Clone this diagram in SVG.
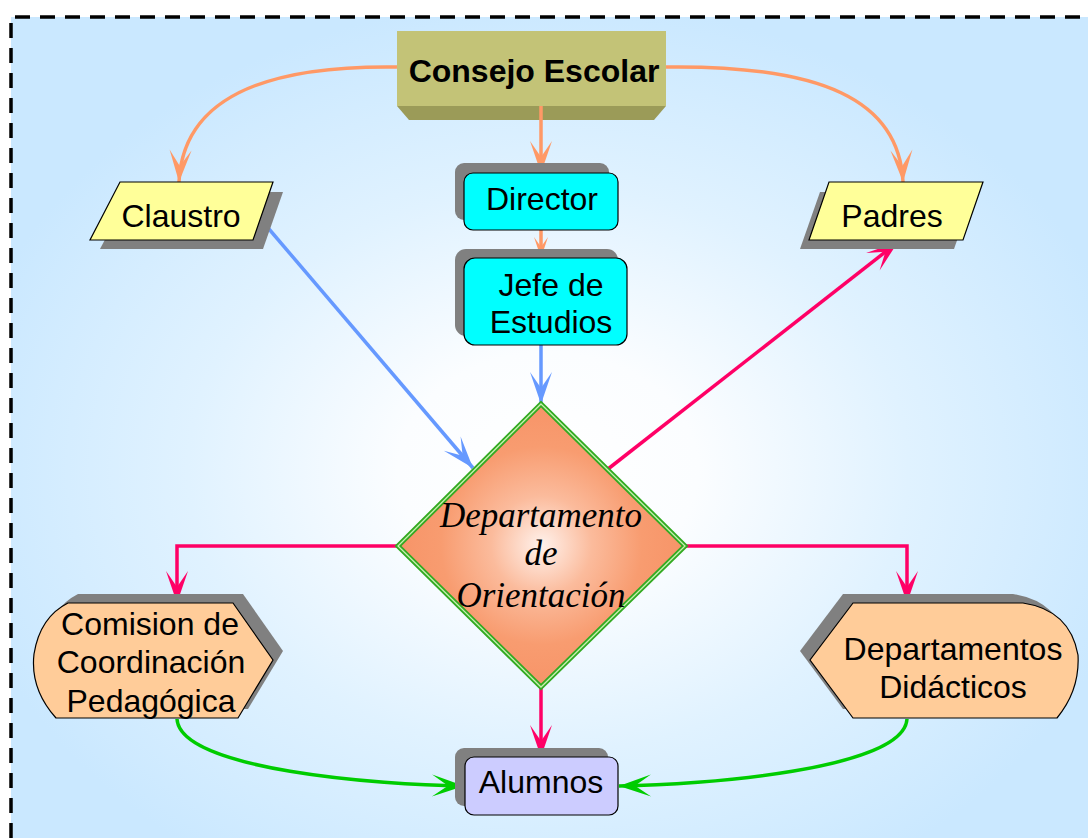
<svg xmlns="http://www.w3.org/2000/svg" width="1088" height="838" viewBox="0 0 1088 838">
  <defs>
    <radialGradient id="bg" gradientUnits="userSpaceOnUse" cx="0" cy="0" r="1" gradientTransform="translate(548 470) scale(600 470)">
      <stop offset="0" stop-color="#ffffff"/>
      <stop offset="0.25" stop-color="#fbfdff"/>
      <stop offset="0.6" stop-color="#e0f2ff"/>
      <stop offset="1" stop-color="#cae8ff"/>
    </radialGradient>
    <radialGradient id="diamondFill" cx="0.5" cy="0.5" r="0.5">
      <stop offset="0" stop-color="#fff2ec"/>
      <stop offset="0.35" stop-color="#fbbb9c"/>
      <stop offset="0.7" stop-color="#f89c70"/>
      <stop offset="1" stop-color="#f79468"/>
    </radialGradient>
    <marker id="arOrange" markerUnits="userSpaceOnUse" markerWidth="40" markerHeight="40" refX="0" refY="0" orient="auto" overflow="visible">
      <path d="M0,0 L-32,-11 L-16,0 L-32,11 Z" fill="#ff9966"/>
    </marker>
    <marker id="arOrangeSm" markerUnits="userSpaceOnUse" markerWidth="30" markerHeight="30" refX="0" refY="0" orient="auto" overflow="visible">
      <path d="M0,0 L-21,-7 L-11,0 L-21,7 Z" fill="#ff9966"/>
    </marker>
    <marker id="arBlue" markerUnits="userSpaceOnUse" markerWidth="40" markerHeight="40" refX="0" refY="0" orient="auto" overflow="visible">
      <path d="M0,0 L-32,-11 L-16,0 L-32,11 Z" fill="#6699ff"/>
    </marker>
    <marker id="arRed" markerUnits="userSpaceOnUse" markerWidth="40" markerHeight="40" refX="0" refY="0" orient="auto" overflow="visible">
      <path d="M0,0 L-32,-11 L-16,0 L-32,11 Z" fill="#ff0066"/>
    </marker>
    <marker id="arGreen" markerUnits="userSpaceOnUse" markerWidth="40" markerHeight="40" refX="0" refY="0" orient="auto" overflow="visible">
      <path d="M0,0 L-32,-11 L-16,0 L-32,11 Z" fill="#00cc00"/>
    </marker>
  </defs>
  <style>
    .lbl { font-family: "Liberation Sans", Arial, sans-serif; font-size: 32px; fill: #000; text-anchor: middle; }
    .bold { font-weight: bold; }
    .ital { font-family: "Liberation Serif", "Times New Roman", serif; font-style: italic; font-size: 35px; fill: #000; text-anchor: middle; }
    .shadow { fill: #808080; }
    .edge { stroke: #000; stroke-width: 1.2; }
    .conn { fill: none; stroke-width: 3.5; }
    .orange { stroke: #ff9966; }
    .blue { stroke: #6699ff; }
    .red { stroke: #ff0066; }
    .green { stroke: #00cc00; }
  </style>

  <!-- page background with dashed frame -->
  <rect x="11" y="17" width="1080" height="825" fill="url(#bg)"/>
  <path d="M11,838 L11,17 L1092,17" fill="none" stroke="#000" stroke-width="3.5" stroke-dasharray="15 10"/>

  <!-- connectors -->
  <g id="connectors">
    <path class="conn orange" d="M397,67 C260,65 183,100 179,182" marker-end="url(#arOrange)"/>
    <path class="conn orange" d="M666,67 C822,65 899,100 903,182" marker-end="url(#arOrange)"/>
    <path class="conn orange" d="M541,106 L541,173" marker-end="url(#arOrange)"/>
    <path class="conn orange" d="M541,230 L541,258" marker-end="url(#arOrangeSm)"/>
    <path class="conn blue" d="M541,345 L541,404" marker-end="url(#arBlue)"/>
    <path class="conn blue" d="M263,222 L473,468" marker-end="url(#arBlue)"/>
    <path class="conn red" d="M608,469 L898,242" marker-end="url(#arRed)"/>
    <path class="conn red" d="M398,546 L177,546 L177,603" marker-end="url(#arRed)"/>
    <path class="conn red" d="M685,546 L907,546 L907,603" marker-end="url(#arRed)"/>
    <path class="conn red" d="M541,687 L541,757" marker-end="url(#arRed)"/>
    <path class="conn green" d="M177,719 C180,770 380,785 464,786" marker-end="url(#arGreen)"/>
    <path class="conn green" d="M907,719 C904,770 700,785 619,786" marker-end="url(#arGreen)"/>
  </g>

  <!-- Consejo Escolar: raised block -->
  <g id="consejo">
    <polygon points="397,106 666,106 654,120 409,120" fill="#9b9b58"/>
    <rect x="397" y="31" width="269" height="75" fill="#c3c377"/>
    <line x1="541" y1="106" x2="541" y2="120" stroke="#ff9966" stroke-width="3.5"/>
    <text class="lbl bold" x="534" y="82">Consejo Escolar</text>
  </g>

  <!-- Claustro -->
  <g id="claustro">
    <polygon class="shadow" points="130,192 283,192 263,249 100,249"/>
    <polygon class="edge" points="120,182 273,182 253,240 90,240" fill="#ffff99"/>
    <text class="lbl" x="181" y="227">Claustro</text>
  </g>

  <!-- Padres -->
  <g id="padres">
    <polygon class="shadow" points="820,192 974,192 954,249 800,249"/>
    <polygon class="edge" points="829,182 983,182 963,240 809,240" fill="#ffff99"/>
    <text class="lbl" x="892" y="227">Padres</text>
  </g>

  <!-- Director -->
  <g id="director">
    <rect class="shadow" x="455" y="163" width="154" height="57" rx="9"/>
    <rect class="edge" x="464" y="173" width="154" height="57" rx="9" fill="#00ffff"/>
    <text class="lbl" x="542" y="210">Director</text>
  </g>

  <!-- Jefe de Estudios -->
  <g id="jefe">
    <rect class="shadow" x="455" y="249" width="163" height="87" rx="11"/>
    <rect class="edge" x="464" y="258" width="163" height="87" rx="11" fill="#00ffff"/>
    <text class="lbl" x="551" y="296">Jefe de</text>
    <text class="lbl" x="551" y="333">Estudios</text>
  </g>

  <!-- Departamento de Orientacion -->
  <g id="orientacion">
    <polygon points="541,404 685,546 541,687 398,546" fill="url(#diamondFill)" stroke="#33aa22" stroke-width="5"/>
    <polygon points="541,404 685,546 541,687 398,546" fill="none" stroke="#c8f0b0" stroke-width="1.3"/>
    <text class="ital" x="541" y="527">Departamento</text>
    <text class="ital" x="541" y="565">de</text>
    <text class="ital" x="541" y="607">Orientación</text>
  </g>

  <!-- Comision de Coordinacion Pedagogica -->
  <g id="comision">
    <path class="shadow" d="M78,594 L243,594 L283,651 L248,709 L66,709 Q40,680 44,645 Q50,608 78,594 Z"/>
    <path class="edge" d="M68,603 L233,603 L273,660 L238,718 L56,718 Q30,689 34,654 Q40,617 68,603 Z" fill="#ffcc99"/>
    <text class="lbl" x="150" y="635">Comision de</text>
    <text class="lbl" x="151" y="673">Coordinación</text>
    <text class="lbl" x="151" y="712">Pedagógica</text>
  </g>

  <!-- Departamentos Didacticos -->
  <g id="didacticos">
    <path class="shadow" d="M843,594 L1013,594 Q1060,601 1068,646 Q1070,681 1047,709 L843,709 L800,651 Z"/>
    <path class="edge" d="M853,603 L1023,603 Q1070,610 1078,655 Q1080,690 1057,718 L853,718 L810,660 Z" fill="#ffcc99"/>
    <text class="lbl" x="953" y="660">Departamentos</text>
    <text class="lbl" x="953" y="698">Didácticos</text>
  </g>

  <!-- Alumnos -->
  <g id="alumnos">
    <rect class="shadow" x="455" y="748" width="153" height="58" rx="9"/>
    <rect class="edge" x="465" y="757" width="153" height="58" rx="9" fill="#ccccff"/>
    <text class="lbl" x="541" y="793">Alumnos</text>
  </g>
</svg>
